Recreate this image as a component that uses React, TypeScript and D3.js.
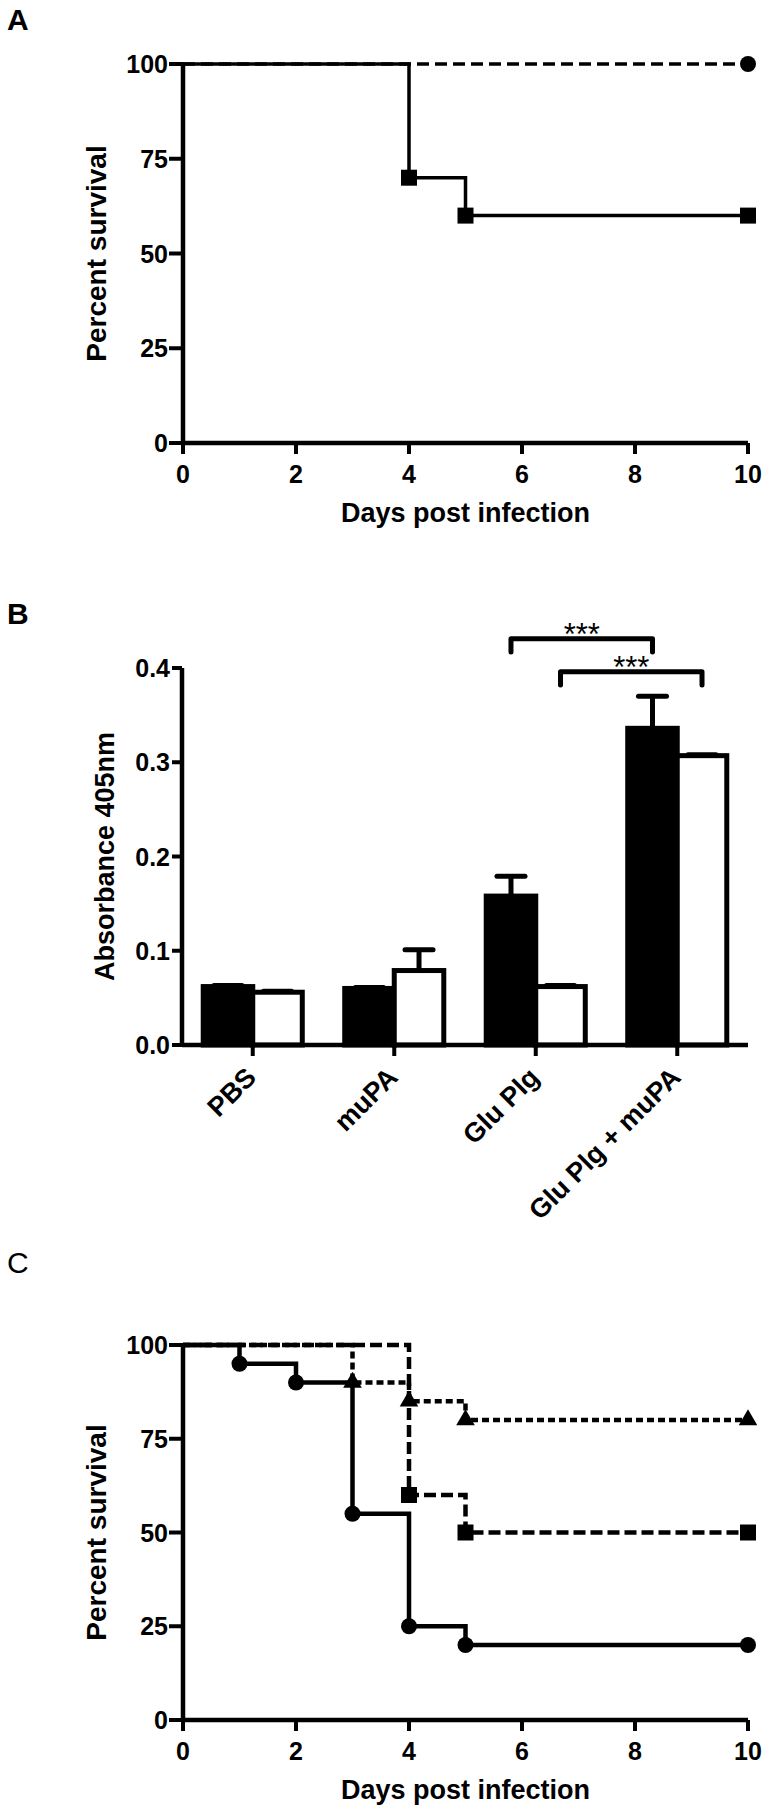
import React from "react";
import * as d3 from "d3";

// ---- panel A: survival, days post infection ----
const aCircleDays = [0, 10];
const aCirclePct = [100, 100];
const aSquareDays = [0, 4, 5, 10];
const aSquarePct = [100, 70, 60, 60];

// ---- panel B: absorbance 405nm ----
const bCategories = ["PBS", "muPA", "Glu Plg", "Glu Plg + muPA"];
const bBlackMean = [0.062, 0.06, 0.158, 0.336];
const bBlackErr = [0.001, 0.001, 0.021, 0.034];
const bWhiteMean = [0.056, 0.079, 0.062, 0.307];
const bWhiteErr = [0.001, 0.022, 0.001, 0.001];
// significance brackets: [category, bar] -> [category, bar]
const bSigFrom = [[2, 0], [2, 1]];
const bSigTo = [[3, 0], [3, 1]];
const bSigLevel = [0.431, 0.396];
const bSigLabel = ["***", "***"];

// ---- panel C: survival ----
const cCircleDays = [0, 1, 2, 3, 4, 5, 10];
const cCirclePct = [100, 95, 90, 55, 25, 20, 20];
const cSquareDays = [0, 4, 5, 10];
const cSquarePct = [100, 60, 50, 50];
const cTriDays = [0, 3, 4, 5, 10];
const cTriPct = [100, 90, 85, 80, 80];

const dayTicks = [0, 2, 4, 6, 8, 10];
const pctTicks = [0, 25, 50, 75, 100];
const absTicks = [0, 0.1, 0.2, 0.3, 0.4];

const FONT = "'Liberation Sans', Arial, Helvetica, sans-serif";

const symbolFor = (m) => {
  if (m === "circle") return d3.symbol().type(d3.symbolCircle).size(Math.PI * 8 * 8)();
  if (m === "square") return d3.symbol().type(d3.symbolSquare).size(16 * 16)();
  return d3.symbol().type(d3.symbolTriangle).size(150)();
};

const SurvivalPanel = ({ left, right, bottom, top, series, lineWidth }) => {
  const x = d3.scaleLinear().domain([0, 10]).range([left, right]);
  const y = d3.scaleLinear().domain([0, 100]).range([bottom, top]);
  const line = d3
    .line()
    .x((d) => x(d[0]))
    .y((d) => y(d[1]))
    .curve(d3.curveStepAfter);

  return (
    <g>
      {/* axes */}
      <line x1={x(0)} x2={x(0)} y1={y(0)} y2={y(100)} stroke="#000" strokeWidth={4.5} />
      <line x1={x(0)} x2={x(10)} y1={y(0)} y2={y(0)} stroke="#000" strokeWidth={4.5} />
      {pctTicks.map((t) => (
        <g key={"y" + t}>
          <line x1={x(0) - 14} x2={x(0)} y1={y(t)} y2={y(t)} stroke="#000" strokeWidth={4} />
          <text x={x(0) - 15} y={y(t)} dy="0.36em" textAnchor="end" fontSize={25} fontWeight="bold">
            {t}
          </text>
        </g>
      ))}
      {dayTicks.map((t) => (
        <g key={"x" + t}>
          <line x1={x(t)} x2={x(t)} y1={y(0)} y2={y(0) + 11} stroke="#000" strokeWidth={4} />
          <text x={x(t)} y={y(0) + 40} textAnchor="middle" fontSize={25} fontWeight="bold">
            {t}
          </text>
        </g>
      ))}
      <text x={(left + right) / 2} y={bottom + 79} textAnchor="middle" fontSize={27} fontWeight="bold">
        Days post infection
      </text>
      <text
        transform={`translate(106, ${(top + bottom) / 2}) rotate(-90)`}
        textAnchor="middle"
        fontSize={28}
        fontWeight="bold"
      >
        Percent survival
      </text>

      {/* survival curves */}
      {series.map((s, i) => {
        const pts = s.days.map((d, j) => [d, s.pct[j]]);
        return (
          <g key={i}>
            <path d={line(pts)} fill="none" stroke="#000" strokeWidth={lineWidth} strokeDasharray={s.dash} />
            {pts.slice(1).map((p, j) => (
              <path key={j} d={symbolFor(s.marker)} transform={`translate(${x(p[0])},${y(p[1])})`} fill="#000" />
            ))}
          </g>
        );
      })}
    </g>
  );
};

const BarPanel = () => {
  const left = 182;
  const right = 748;
  const bottom = 1045;
  const top = 668;
  const x0 = d3.scaleBand().domain(bCategories).range([left, right]).paddingInner(0.3).paddingOuter(0.15);
  const x1 = d3.scaleBand().domain(["black", "white"]).range([0, x0.bandwidth()]);
  const y = d3.scaleLinear().domain([0, 0.4]).range([bottom, top]);
  const groups = [
    { key: "black", mean: bBlackMean, err: bBlackErr, fill: "#000" },
    { key: "white", mean: bWhiteMean, err: bWhiteErr, fill: "#fff" },
  ];
  const barCenter = (ci, bi) => x0(bCategories[ci]) + x1(groups[bi].key) + x1.bandwidth() / 2;

  return (
    <g>
      {bCategories.map((c, ci) =>
        groups.map((g) => {
          const bx = x0(c) + x1(g.key);
          const bw = x1.bandwidth();
          const v = g.mean[ci];
          const e = g.err[ci];
          const cx = bx + bw / 2;
          return (
            <g key={c + g.key}>
              <line x1={cx} x2={cx} y1={y(v)} y2={y(v + e)} stroke="#000" strokeWidth={5} />
              <line x1={cx - 14} x2={cx + 14} y1={y(v + e)} y2={y(v + e)} stroke="#000" strokeWidth={5} strokeLinecap="round" />
              <rect x={bx} y={y(v)} width={bw} height={y(0) - y(v)} fill={g.fill} stroke="#000" strokeWidth={5} />
            </g>
          );
        })
      )}

      {/* axes */}
      <line x1={left} x2={left} y1={y(0)} y2={y(0.4)} stroke="#000" strokeWidth={4.5} />
      <line x1={left} x2={right} y1={y(0)} y2={y(0)} stroke="#000" strokeWidth={4.5} />
      {absTicks.map((t) => (
        <g key={"y" + t}>
          <line x1={left - 10} x2={left} y1={y(t)} y2={y(t)} stroke="#000" strokeWidth={4} />
          <text x={left - 12} y={y(t)} dy="0.36em" textAnchor="end" fontSize={25} fontWeight="bold">
            {d3.format(".1f")(t)}
          </text>
        </g>
      ))}
      {bCategories.map((c) => {
        const cx = x0(c) + x0.bandwidth() / 2;
        return (
          <g key={"x" + c}>
            <line x1={cx} x2={cx} y1={y(0)} y2={y(0) + 11} stroke="#000" strokeWidth={4} />
            <text
              transform={`translate(${cx + 5}, ${y(0) + 34}) rotate(-45)`}
              textAnchor="end"
              fontSize={27}
              fontWeight="bold"
            >
              {c}
            </text>
          </g>
        );
      })}
      <text
        transform={`translate(114, ${(top + bottom) / 2}) rotate(-90)`}
        textAnchor="middle"
        fontSize={27}
        fontWeight="bold"
      >
        Absorbance 405nm
      </text>

      {/* significance brackets */}
      {bSigLabel.map((lab, i) => {
        const xa = barCenter(bSigFrom[i][0], bSigFrom[i][1]);
        const xb = barCenter(bSigTo[i][0], bSigTo[i][1]);
        const ly = y(bSigLevel[i]);
        const tipY = y(bSigLevel[i] - 0.014);
        return (
          <g key={"sig" + i}>
            <path
              d={`M${xa},${tipY}V${ly}H${xb}V${tipY}`}
              fill="none"
              stroke="#000"
              strokeWidth={5}
              strokeLinecap="round"
              strokeLinejoin="round"
            />
            <text x={(xa + xb) / 2} y={ly + 6} textAnchor="middle" fontSize={31}>
              {lab}
            </text>
          </g>
        );
      })}
    </g>
  );
};

export default function App() {
  const seriesA = [
    { days: aCircleDays, pct: aCirclePct, dash: "12 6", marker: "circle" },
    { days: aSquareDays, pct: aSquarePct, dash: null, marker: "square" },
  ];
  const seriesC = [
    { days: cTriDays, pct: cTriPct, dash: "7 4", marker: "triangle" },
    { days: cSquareDays, pct: cSquarePct, dash: "12 5", marker: "square" },
    { days: cCircleDays, pct: cCirclePct, dash: null, marker: "circle" },
  ];
  return (
    <svg
      width={770}
      height={1812}
      style={{ position: "absolute", left: 0, top: 0, background: "#fff" }}
      fontFamily={FONT}
    >
      <text x={7} y={30} fontSize={30} fontWeight="bold">A</text>
      <SurvivalPanel left={183} right={748} bottom={443} top={64} series={seriesA} lineWidth={3.5} />

      <text x={7} y={624} fontSize={30} fontWeight="bold">B</text>
      <BarPanel />

      <text x={7} y={1273} fontSize={30}>C</text>
      <SurvivalPanel left={183} right={748} bottom={1720} top={1345} series={seriesC} lineWidth={4.5} />
    </svg>
  );
}
